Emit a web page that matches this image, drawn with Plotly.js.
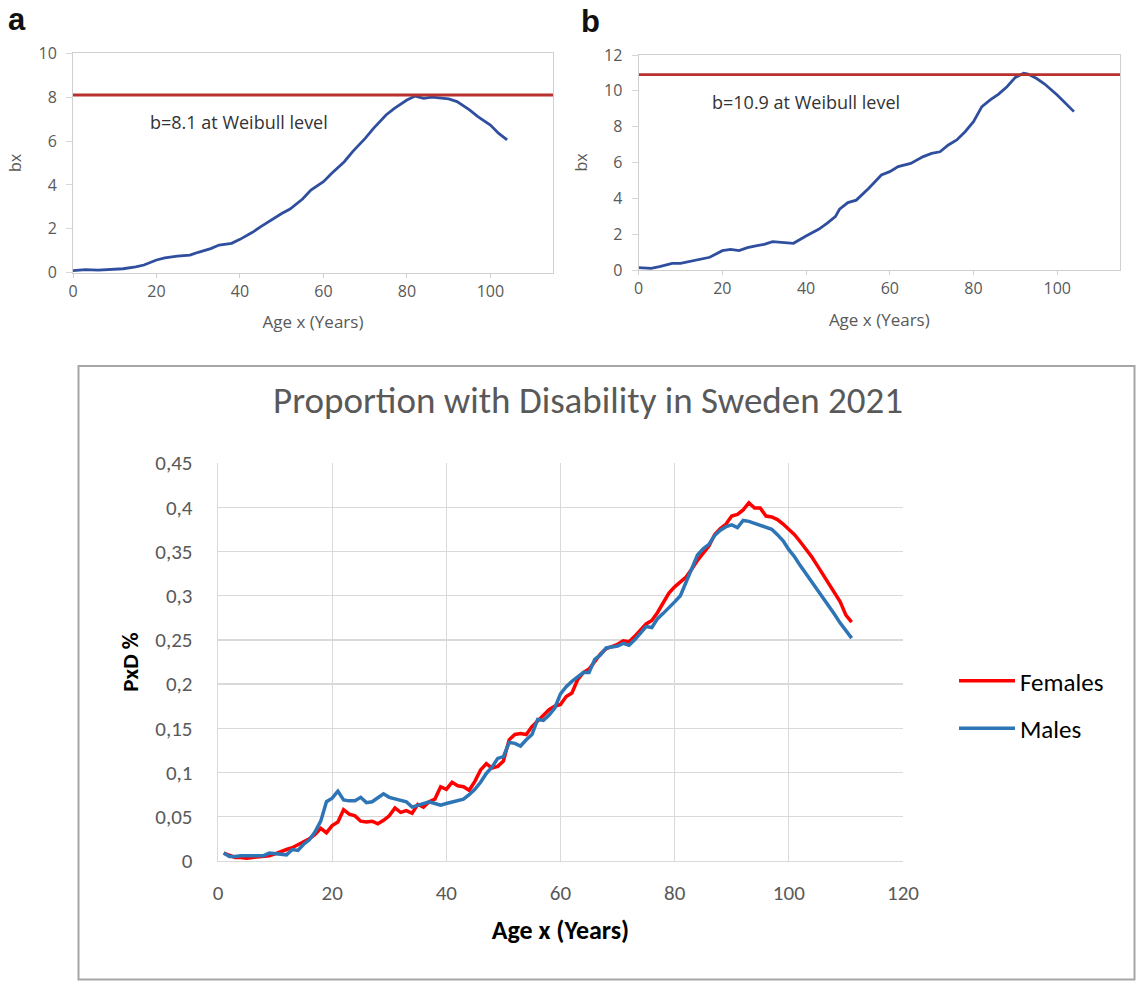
<!DOCTYPE html>
<html>
<head>
<meta charset="utf-8">
<script src="https://cdn.plot.ly/plotly-3.0.1.min.js"></script>
<style>html,body{margin:0;padding:0;background:#fff;}#chart{width:1136px;height:981px;}</style>
</head>
<body>
<div id="chart"></div>
<script>
// Panel a: bx by age (females, Weibull level)
const panelAAges = [0,3,6,9,12,15,17,20,22,25,28,30,33,35,38,40,43,45,48,50,52,55,57,60,62,65,67,70,72,75,77,80,82,84,86,88,90,92,95,97,100,102,104];
const panelABx = [0.09,0.14,0.12,0.14,0.18,0.27,0.35,0.58,0.68,0.76,0.80,0.93,1.10,1.26,1.34,1.52,1.84,2.10,2.48,2.70,2.90,3.36,3.77,4.15,4.53,5.06,5.52,6.12,6.58,7.19,7.49,7.87,8.05,7.95,8.00,7.95,7.92,7.80,7.42,7.11,6.73,6.35,6.05];
const panelAWeibull = 8.1;
const panelALabel = "b=8.1 at Weibull level";

// Panel b: bx by age (males, Weibull level)
const panelBAges = [0,3,5,8,10,13,15,17,20,22,24,26,28,30,32,34,37,40,43,45,47,48,50,52,55,58,60,62,65,68,70,72,74,76,78,80,82,84,86,88,90,92,93,95,97,100,102,104];
const panelBBx = [0.13,0.09,0.19,0.37,0.37,0.52,0.60,0.71,1.08,1.15,1.08,1.25,1.34,1.43,1.58,1.53,1.49,1.90,2.27,2.60,2.98,3.39,3.76,3.90,4.56,5.30,5.49,5.77,5.95,6.33,6.51,6.60,6.98,7.26,7.72,8.28,9.12,9.49,9.82,10.23,10.75,10.98,10.94,10.70,10.38,9.77,9.30,8.84];
const panelBWeibull = 10.9;
const panelBLabel = "b=10.9 at Weibull level";

// Main chart: proportion with disability, Sweden 2021, ages 1..111
const ages = [];
for (let a = 1; a <= 111; a++) ages.push(a);
const females = [0.009,0.006,0.004,0.004,0.003,0.004,0.005,0.006,0.006,0.008,
  0.011,0.013,0.015,0.018,0.021,0.025,0.030,0.037,0.032,0.040,
  0.044,0.058,0.053,0.051,0.045,0.044,0.045,0.042,0.046,0.051,
  0.060,0.055,0.057,0.054,0.064,0.061,0.067,0.070,0.084,0.081,
  0.089,0.085,0.084,0.080,0.090,0.103,0.110,0.105,0.107,0.113,
  0.137,0.143,0.144,0.143,0.152,0.158,0.165,0.171,0.175,0.177,
  0.186,0.190,0.205,0.213,0.217,0.226,0.234,0.240,0.242,0.245,
  0.249,0.248,0.254,0.261,0.268,0.272,0.281,0.292,0.303,0.310,
  0.316,0.321,0.330,0.340,0.348,0.356,0.369,0.376,0.381,0.390,
  0.392,0.397,0.405,0.399,0.399,0.390,0.389,0.386,0.381,0.375,
  0.369,0.361,0.353,0.344,0.334,0.324,0.314,0.303,0.293,0.278,0.270];
const males = [0.009,0.005,0.005,0.006,0.006,0.006,0.006,0.006,0.009,0.008,
  0.008,0.007,0.013,0.012,0.019,0.024,0.033,0.045,0.067,0.071,
  0.079,0.069,0.068,0.068,0.072,0.066,0.067,0.072,0.076,0.072,
  0.070,0.069,0.067,0.061,0.063,0.066,0.067,0.065,0.063,0.065,
  0.067,0.068,0.070,0.075,0.081,0.089,0.099,0.106,0.116,0.118,
  0.134,0.133,0.130,0.137,0.143,0.160,0.159,0.165,0.173,0.189,
  0.197,0.203,0.208,0.213,0.213,0.228,0.233,0.241,0.242,0.243,
  0.246,0.244,0.250,0.257,0.265,0.264,0.274,0.280,0.286,0.293,
  0.300,0.315,0.330,0.346,0.353,0.358,0.368,0.374,0.378,0.380,
  0.377,0.385,0.384,0.382,0.379,0.377,0.375,0.369,0.362,0.352,
  0.344,0.334,0.325,0.316,0.306,0.297,0.288,0.279,0.269,0.260,0.252];
const mainTitle = "Proportion with Disability in Sweden 2021";
const xTitle = "Age x (Years)";
const yTitleMain = "PxD %";
const yTitleTop = "bx";

const W = 1136, H = 981;
const px = v => v / W;
const py = v => 1 - v / H;

const topBlue = "#2f4f9e";
const topRed = "#b8312f";
const fnt = "Carlito, Lato, 'Liberation Sans', sans-serif";
const topFnt = "'Open Sans', 'DejaVu Sans', sans-serif";

const traces = [
  {x: panelAAges, y: panelABx, xaxis: "x", yaxis: "y", mode: "lines", line: {color: topBlue, width: 2.8}, showlegend: false, hoverinfo: "skip"},
  {x: [0, 115], y: [panelAWeibull, panelAWeibull], xaxis: "x", yaxis: "y", mode: "lines", line: {color: topRed, width: 2.8}, showlegend: false, hoverinfo: "skip"},
  {x: panelBAges, y: panelBBx, xaxis: "x2", yaxis: "y2", mode: "lines", line: {color: topBlue, width: 2.8}, showlegend: false, hoverinfo: "skip"},
  {x: [0, 115], y: [panelBWeibull, panelBWeibull], xaxis: "x2", yaxis: "y2", mode: "lines", line: {color: topRed, width: 2.8}, showlegend: false, hoverinfo: "skip"},
  {x: ages, y: females, xaxis: "x3", yaxis: "y3", mode: "lines", name: "Females", legendgroup: "f", line: {color: "#ff0000", width: 3.5}},
  {x: ages, y: males, xaxis: "x3", yaxis: "y3", mode: "lines", name: "Males", legendgroup: "m", line: {color: "#2e75b6", width: 3.5}}
];

const topAxisX = (dom) => ({
  domain: dom, range: [0, 115], dtick: 20, tick0: 0, showgrid: false, zeroline: false,
  showline: true, linecolor: "#d0d0d0", linewidth: 1, mirror: true,
  ticks: "outside", ticklen: 4, tickcolor: "#d0d0d0",
  tickfont: {family: topFnt, size: 16, color: "#595959"},
  title: {text: xTitle, font: {family: topFnt, size: 17, color: "#595959"}, standoff: 15}
});
const topAxisY = (dom, max) => ({
  domain: dom, range: [0, max], dtick: 2, tick0: 0, showgrid: false, zeroline: false,
  showline: true, linecolor: "#d0d0d0", linewidth: 1, mirror: true,
  ticks: "outside", ticklen: 6, tickcolor: "#d8d8d8", ticklabelstandoff: 6,
  tickfont: {family: topFnt, size: 16, color: "#595959"},
  title: {text: yTitleTop, font: {family: topFnt, size: 16, color: "#595959"}, standoff: 12}
});

const layout = {
  width: W, height: H,
  margin: {l: 0, r: 0, t: 0, b: 0},
  paper_bgcolor: "#ffffff", plot_bgcolor: "#ffffff",
  separators: ",.",
  showlegend: true,
  title: {text: mainTitle, x: px(588), y: py(400), xanchor: "center", yanchor: "middle",
          font: {family: fnt, size: 37, color: "#595959"}},
  xaxis: Object.assign(topAxisX([px(73), px(553)]), {anchor: "y"}),
  yaxis: Object.assign(topAxisY([py(272.7), py(53.3)], 10), {anchor: "x"}),
  xaxis2: Object.assign(topAxisX([px(638.6), px(1120)]), {anchor: "y2"}),
  yaxis2: Object.assign(topAxisY([py(270), py(55)], 12), {anchor: "x2"}),
  xaxis3: {
    domain: [px(218), px(903)], anchor: "y3", range: [0, 120], dtick: 20, tick0: 0,
    showgrid: true, gridcolor: "#d9d9d9", gridwidth: 1.3, zeroline: false,
    showline: true, linecolor: "#d9d9d9", linewidth: 1.3,
    ticks: "outside", ticklen: 12, tickcolor: "rgba(0,0,0,0)",
    tickfont: {family: fnt, size: 21, color: "#595959"},
    title: {text: xTitle, font: {family: fnt, size: 26, color: "#000000", weight: "bold"}, standoff: 16}
  },
  yaxis3: {
    domain: [py(861), py(463)], anchor: "x3", range: [0, 0.45], dtick: 0.05, tick0: 0,
    showgrid: true, gridcolor: "#d9d9d9", gridwidth: 1.3, zeroline: false,
    showline: true, linecolor: "#d9d9d9", linewidth: 1.3,
    ticks: "outside", ticklen: 20, tickcolor: "rgba(0,0,0,0)",
    tickfont: {family: fnt, size: 21, color: "#595959"},
    title: {text: yTitleMain, font: {family: fnt, size: 23, color: "#000000", weight: "bold"}, standoff: 10}
  },
  legend: {
    x: px(954), y: py(658), xanchor: "left", yanchor: "top",
    font: {family: fnt, size: 25, color: "#000000"},
    bgcolor: "rgba(0,0,0,0)", borderwidth: 0,
    traceorder: "grouped", tracegroupgap: 12, itemwidth: 56
  },
  shapes: [
    {type: "rect", xref: "paper", yref: "paper", x0: px(78.5), x1: px(1134.5), y0: py(979.5), y1: py(366),
     line: {color: "#a6a6a6", width: 2}, fillcolor: "rgba(0,0,0,0)", layer: "below"}
  ],
  annotations: [
    {text: "<b>a</b>", xref: "paper", yref: "paper", x: px(6), y: py(0), xanchor: "left", yanchor: "top",
     showarrow: false, font: {family: "'Liberation Sans', Arial, sans-serif", size: 31, color: "#111111"}},
    {text: "<b>b</b>", xref: "paper", yref: "paper", x: px(579), y: py(2), xanchor: "left", yanchor: "top",
     showarrow: false, font: {family: "'Liberation Sans', Arial, sans-serif", size: 31, color: "#111111"}},
    {text: panelALabel, xref: "x", yref: "y", x: 39.8, y: 6.88, showarrow: false,
     font: {family: topFnt, size: 18, color: "#333333"}},
    {text: panelBLabel, xref: "x2", yref: "y2", x: 40.1, y: 9.38, showarrow: false,
     font: {family: topFnt, size: 18, color: "#333333"}}
  ]
};

Plotly.newPlot("chart", traces, layout, {displayModeBar: false, staticPlot: true});
</script>
</body>
</html>
